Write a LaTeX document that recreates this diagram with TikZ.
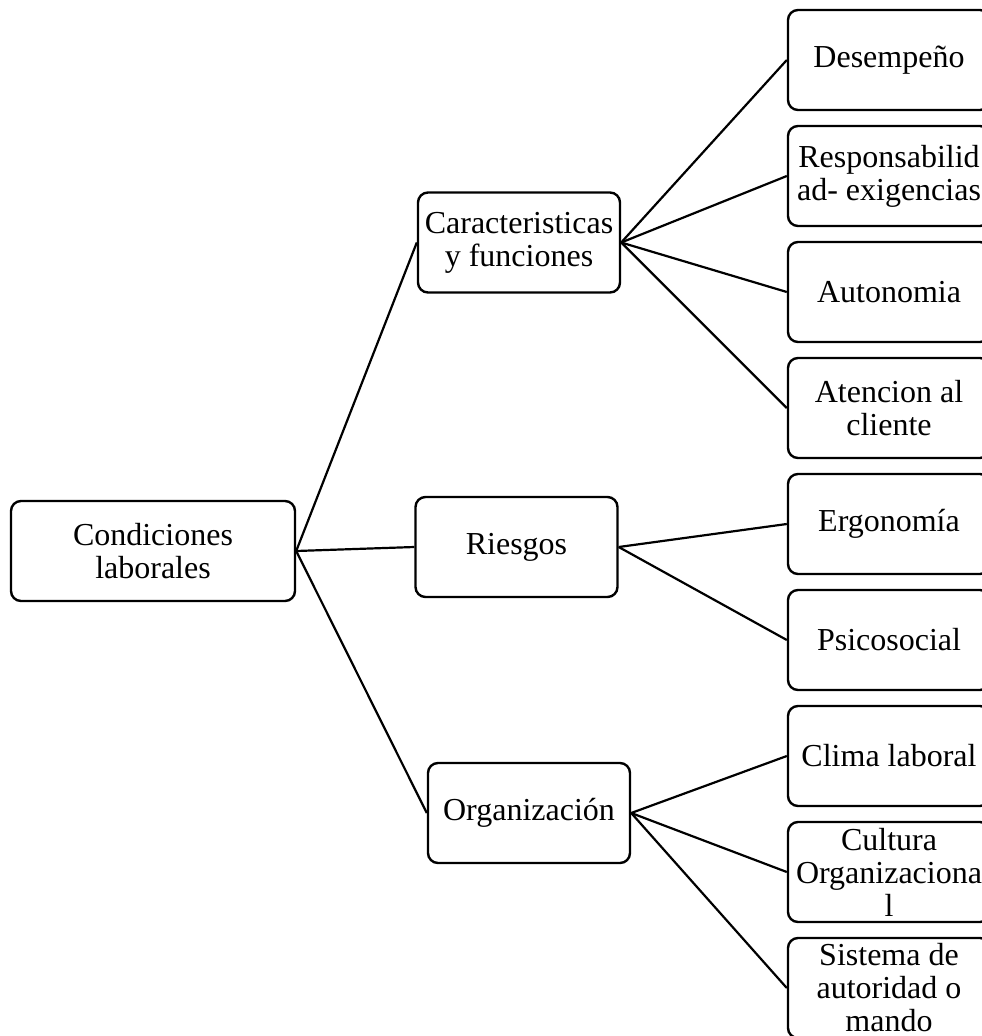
\documentclass[tikz,border=0pt]{standalone}
\usepackage{fontspec}
\setmainfont{Liberation Serif}
\begin{document}
\begin{tikzpicture}[x=1pt,y=-1pt,
  box/.style={draw=black, line width=2.4pt, rounded corners=10pt, fill=white,
    minimum width=202pt, minimum height=100pt, inner sep=0pt, align=center,
    font=\fontsize{32}{33}\selectfont},
  conn/.style={line width=2.2pt, black}]
\useasboundingbox (0,0) rectangle (982,1036);
\node[box, minimum width=284pt] (root) at (153,551) {Condiciones\\laborales};
\node[box] (car) at (519,242.5) {Caracteristicas\\y funciones};
\node[box] (rie) at (516.5,547) {Riesgos};
\node[box] (org) at (529,813) {Organización};
\node[box] (d1) at (889,60) {Desempeño};
\node[box] (d2) at (889,176) {Responsabilid\\ad- exigencias};
\node[box] (d3) at (889,292) {Autonomia};
\node[box] (d4) at (889,408) {Atencion al\\cliente};
\node[box] (r1) at (889,524) {Ergonomía};
\node[box] (r2) at (889,640) {Psicosocial};
\node[box] (o1) at (889,756) {Clima laboral};
\node[box] (o2) at (889,872) {Cultura\\Organizaciona\\l};
\node[box] (o3) at (889,988) {Sistema de\\autoridad o\\mando};
\foreach \c in {car,rie,org} \draw[conn] (root.east) -- (\c.west);
\foreach \c in {d1,d2,d3,d4} \draw[conn] (car.east) -- (\c.west);
\foreach \c in {r1,r2} \draw[conn] (rie.east) -- (\c.west);
\foreach \c in {o1,o2,o3} \draw[conn] (org.east) -- (\c.west);
\end{tikzpicture}
\end{document}
